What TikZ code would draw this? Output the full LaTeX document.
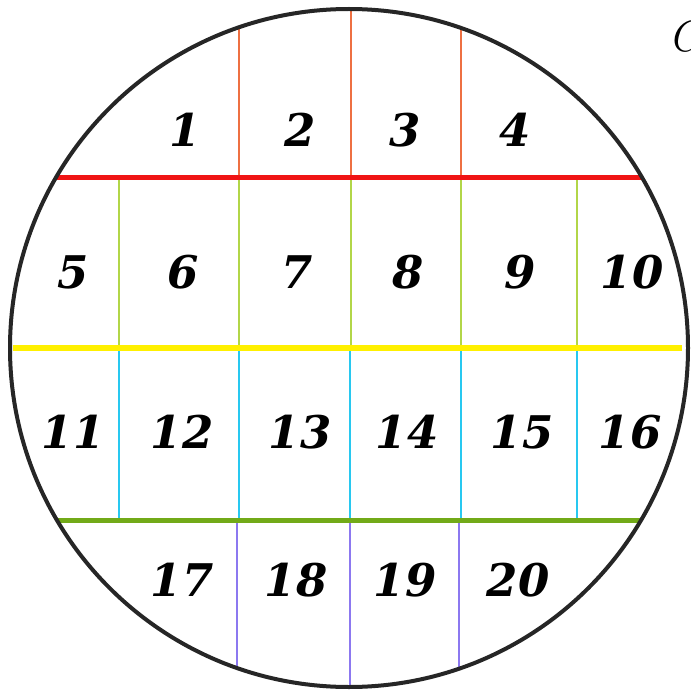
\documentclass[tikz,border=0pt]{standalone}
\usepackage{xcolor}
\usepackage{fontspec}
\usepackage{tikz}
\usetikzlibrary{positioning, calc}

\newfontfamily\digitfont{DejaVu Serif}

\definecolor{rowred}{RGB}{240,20,20}
\definecolor{colorange}{RGB}{238,112,66}
\definecolor{colyg}{RGB}{178,214,72}
\definecolor{rowyellow}{RGB}{255,240,0}
\definecolor{colcyan}{RGB}{40,200,240}
\definecolor{rowgreen}{RGB}{114,170,24}
\definecolor{colpurple}{RGB}{140,120,240}

\tikzset{
    num/.style={font=\digitfont\fontsize{45}{54}\selectfont\bfseries\itshape, inner sep=0pt},
    row/.style={line width=5pt},
    col/.style={line width=2.8pt}
}

\begin{document}
\begin{tikzpicture}[x=1pt, y=-1pt]
    \useasboundingbox (0,0) rectangle (691,690);
    \coordinate (c) at (349,348);

    \begin{scope}
        \clip (c) circle (339);
        % top row
        \foreach \x in {239,351,461} \draw[col, colorange] (\x,0) -- (\x,178);
        % second row
        \foreach \x in {119,239,351,461,577} \draw[col, colyg] (\x,178) -- (\x,348);
        % third row
        \foreach \x in {119,239,350,461,577} \draw[col, colcyan] (\x,348) -- (\x,520);
        % bottom row
        \foreach \x in {237,350,459} \draw[col, colpurple] (\x,520) -- (\x,700);
        \draw[row, rowred] (0,178) -- (700,178);
        \draw[row, rowgreen] (0,520) -- (700,520);
    \end{scope}
    \draw[line width=6pt, rowyellow] (13,348) -- (682,348);
    \draw[line width=4pt, black!85] (c) circle (339);

    \node[num] (n1) at (185,130) {1};
    \node[num] (n2) at (300,130) {2};
    \node[num] (n3) at (405,130) {3};
    \node[num] (n4) at (515,130) {4};

    \node[num] (n5) at (73,272) {5};
    \node[num] (n6) at (183,272) {6};
    \node[num] (n7) at (297,272) {7};
    \node[num] (n8) at (408,272) {8};
    \node[num] (n9) at (520,272) {9};
    \node[num] (n10) at (632,272) {10};

    \node[num] (n11) at (73,432) {11};
    \node[num] (n12) at (182,432) {12};
    \node[num] (n13) at (300,432) {13};
    \node[num] (n14) at (407,432) {14};
    \node[num] (n15) at (522,432) {15};
    \node[num] (n16) at (630,432) {16};

    \node[num] (n17) at (182,580) {17};
    \node[num] (n18) at (296,580) {18};
    \node[num] (n19) at (405,580) {19};
    \node[num] (n20) at (518,580) {20};

    \node[font=\fontsize{44}{50}\selectfont\itshape, anchor=west, inner sep=0pt] (cut) at (668,36) {C};
\end{tikzpicture}
\end{document}
